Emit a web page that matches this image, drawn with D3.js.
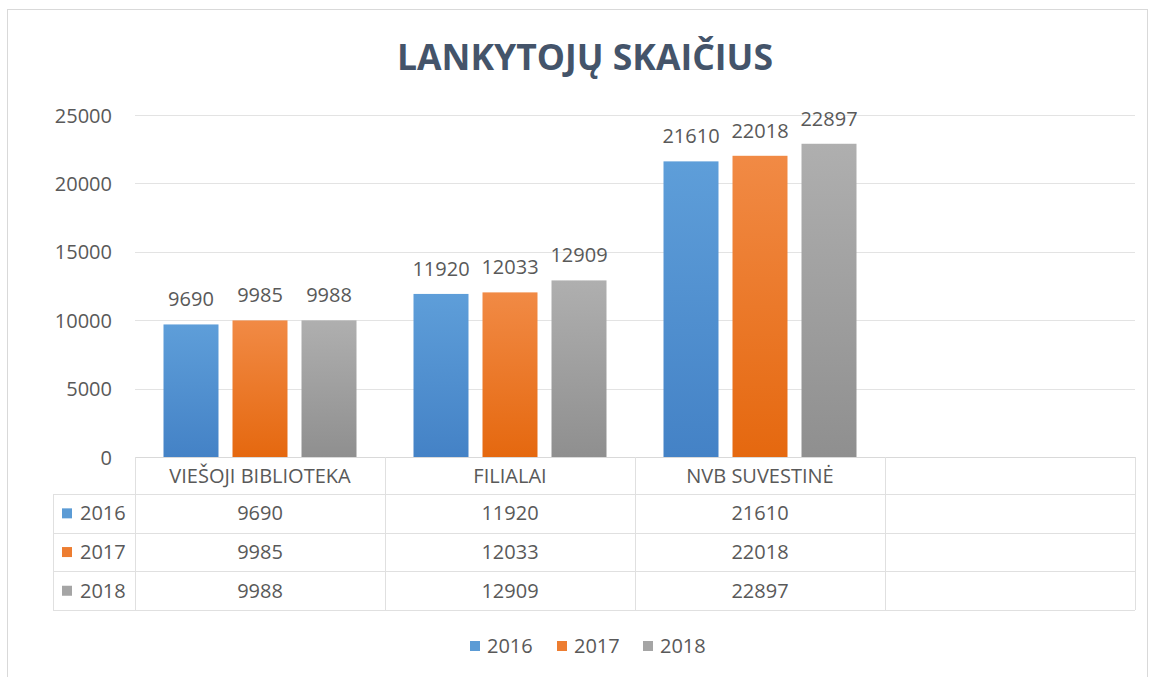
<!DOCTYPE html>
<html>
<head>
<meta charset="utf-8">
<script src="https://cdn.jsdelivr.net/npm/d3@7"></script>
<style>
  html, body { margin: 0; padding: 0; background: #ffffff; }
  svg { display: block; }
  text { font-family: "Open Sans", "Noto Sans", sans-serif; }
</style>
</head>
<body>
<svg id="chart" width="1151" height="677"></svg>
<script>
// ---- data ----
const title = "LANKYTOJŲ SKAIČIUS";
const categories = ["VIEŠOJI BIBLIOTEKA", "FILIALAI", "NVB SUVESTINĖ", ""];
const years = ["2016", "2017", "2018"];
const values2016 = [9690, 11920, 21610];
const values2017 = [9985, 12033, 22018];
const values2018 = [9988, 12909, 22897];
const yTicks = [0, 5000, 10000, 15000, 20000, 25000];

const seriesValues = [values2016, values2017, values2018];
const colors = ["#5b9bd5", "#ed7d31", "#a5a5a5"];
const gradTop = ["#5e9ed9", "#f18a45", "#afafaf"];
const gradBot = ["#4482c6", "#e5680f", "#8f8f8f"];

const svg = d3.select("#chart");

// outer border
svg.append("rect").attr("x", 7.5).attr("y", 9.5).attr("width", 1140).attr("height", 680)
  .attr("fill", "#fff").attr("stroke", "#d9d9d9").attr("stroke-width", 1);

// gradients
const defs = svg.append("defs");
years.forEach((yr, i) => {
  const g = defs.append("linearGradient").attr("id", "g" + i)
    .attr("x1", 0).attr("y1", 0).attr("x2", 0).attr("y2", 1);
  g.append("stop").attr("offset", "0%").attr("stop-color", gradTop[i]);
  g.append("stop").attr("offset", "100%").attr("stop-color", gradBot[i]);
});

// scales
const x = d3.scaleBand().domain(categories.map((c, i) => i)).range([135, 1135]).padding(0);
const xs = d3.scaleBand().domain(years).range([0, x.bandwidth()]).paddingInner(0.203).paddingOuter(0.413);
const y = d3.scaleLinear().domain([0, 25000]).range([457, 115]);

// title
svg.append("text").attr("x", 585).attr("y", 70).attr("text-anchor", "middle")
  .attr("font-size", 35.5).attr("font-weight", "bold").attr("fill", "#44546a").text(title);

// gridlines
svg.append("g").selectAll("line").data(yTicks.filter(d => d > 0)).join("line")
  .attr("x1", 135).attr("x2", 1135)
  .attr("y1", d => Math.round(y(d)) + 0.5).attr("y2", d => Math.round(y(d)) + 0.5)
  .attr("stroke", "#e3e3e3").attr("stroke-width", 1);

// y axis labels
const yAxis = d3.axisLeft(y).tickValues(yTicks).tickSize(0).tickPadding(0).tickFormat(d3.format("d"));
const ga = svg.append("g").attr("transform", "translate(112,0)").call(yAxis);
ga.select(".domain").remove();
ga.selectAll("text").attr("font-size", 20).attr("fill", "#595959")
  .attr("font-family", "'Open Sans', sans-serif").attr("dy", "0.35em");

// bars
years.forEach((yr, si) => {
  const vals = seriesValues[si];
  const g = svg.append("g");
  g.selectAll("rect").data(vals).join("rect")
    .attr("x", (d, i) => x(i) + xs(yr))
    .attr("y", d => y(d))
    .attr("width", xs.bandwidth())
    .attr("height", d => y(0) - y(d))
    .attr("fill", "url(#g" + si + ")");
  g.selectAll("text").data(vals).join("text")
    .attr("x", (d, i) => x(i) + xs(yr) + xs.bandwidth() / 2)
    .attr("y", d => y(d) - 18)
    .attr("text-anchor", "middle").attr("font-size", 20).attr("fill", "#595959")
    .text(d => d);
});

// data table
const rowTop = 457, headerH = 37, rowH = 38.7;
const rowY = [rowTop + headerH, rowTop + headerH + rowH, rowTop + headerH + 2 * rowH, rowTop + headerH + 3 * rowH];
const tableBottom = rowY[3];
const lineColor = "#e0e0e0";
const tg = svg.append("g");
tg.append("line").attr("x1", 135).attr("x2", 1135).attr("y1", rowTop + 0.5).attr("y2", rowTop + 0.5)
  .attr("stroke", "#d9d9d9");
tg.selectAll("line.h").data(rowY).join("line").attr("class", "h")
  .attr("x1", 53).attr("x2", 1135)
  .attr("y1", d => Math.round(d) + 0.5).attr("y2", d => Math.round(d) + 0.5)
  .attr("stroke", lineColor);
const vx = categories.map((c, i) => x(i)).concat([x(categories.length - 1) + x.bandwidth()]);
tg.selectAll("line.v").data(vx).join("line").attr("class", "v")
  .attr("x1", d => Math.round(d) + 0.5).attr("x2", d => Math.round(d) + 0.5)
  .attr("y1", rowTop).attr("y2", Math.round(tableBottom))
  .attr("stroke", lineColor);
tg.append("line").attr("x1", 53.5).attr("x2", 53.5).attr("y1", Math.round(rowY[0])).attr("y2", Math.round(tableBottom))
  .attr("stroke", lineColor);
tg.selectAll("text.cat").data(categories).join("text").attr("class", "cat")
  .attr("x", (d, i) => x(i) + x.bandwidth() / 2)
  .attr("y", rowTop + headerH / 2).attr("dy", "0.35em")
  .attr("text-anchor", "middle").attr("font-size", 20).attr("fill", "#595959")
  .text(d => d);
years.forEach((yr, si) => {
  const cy = rowY[si] + rowH / 2;
  tg.append("rect").attr("x", 62).attr("y", cy - 5).attr("width", 10).attr("height", 10).attr("fill", colors[si]);
  tg.append("text").attr("x", 80).attr("y", cy).attr("dy", "0.35em")
    .attr("font-size", 20).attr("fill", "#595959").text(yr);
  tg.selectAll("text.v" + si).data(seriesValues[si]).join("text").attr("class", "v" + si)
    .attr("x", (d, i) => x(i) + x.bandwidth() / 2)
    .attr("y", cy).attr("dy", "0.35em")
    .attr("text-anchor", "middle").attr("font-size", 20).attr("fill", "#595959")
    .text(d => d);
});

// legend
const legendX = [470, 557, 643];
const lg = svg.append("g");
years.forEach((yr, si) => {
  lg.append("rect").attr("x", legendX[si]).attr("y", 641).attr("width", 10).attr("height", 10).attr("fill", colors[si]);
  lg.append("text").attr("x", legendX[si] + 17).attr("y", 646).attr("dy", "0.35em")
    .attr("font-size", 20).attr("fill", "#595959").text(yr);
});
</script>
</body>
</html>
